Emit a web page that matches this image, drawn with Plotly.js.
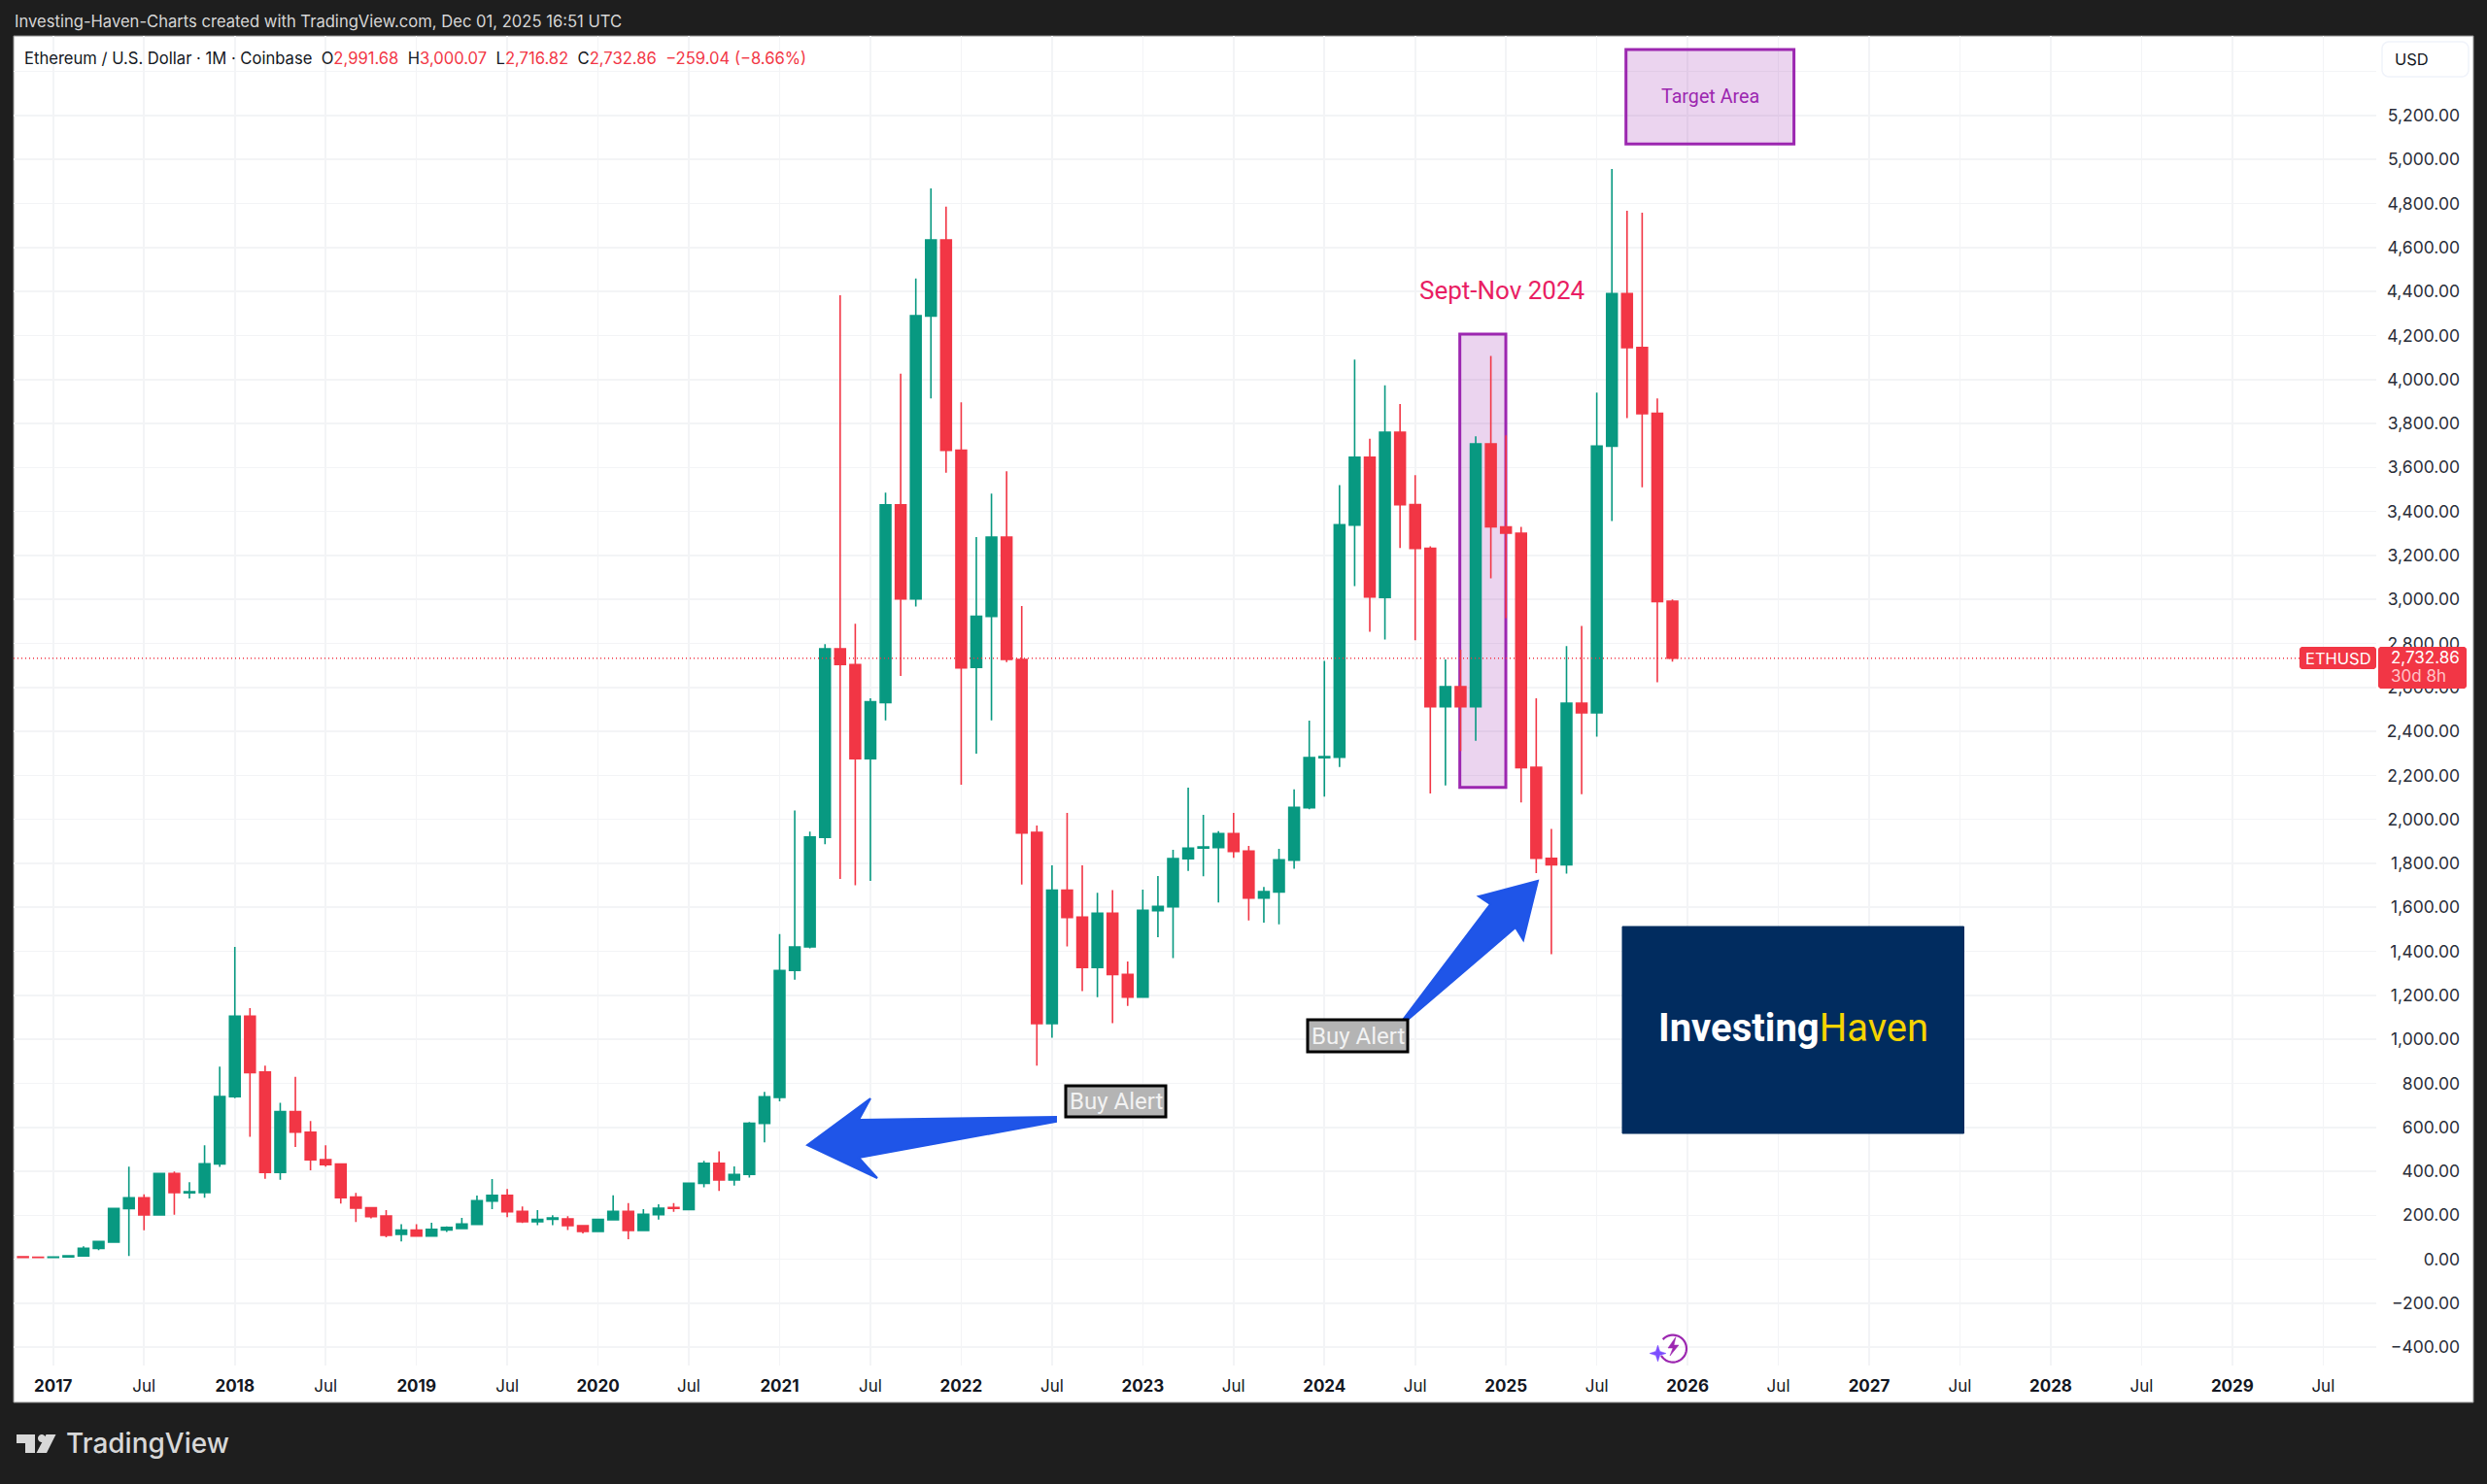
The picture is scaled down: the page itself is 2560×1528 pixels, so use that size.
<!DOCTYPE html>
<html><head><meta charset="utf-8">
<script src="https://cdn.plot.ly/plotly-3.0.1.min.js"></script>
<style>html,body{margin:0;padding:0;background:#1e1e1e}#c{width:2560px;height:1528px}</style>
</head><body><div id="c"></div>
<script>
const months=['2016-11','2016-12',
'2017-01','2017-02','2017-03','2017-04','2017-05','2017-06','2017-07','2017-08','2017-09','2017-10','2017-11','2017-12',
'2018-01','2018-02','2018-03','2018-04','2018-05','2018-06','2018-07','2018-08','2018-09','2018-10','2018-11','2018-12',
'2019-01','2019-02','2019-03','2019-04','2019-05','2019-06','2019-07','2019-08','2019-09','2019-10','2019-11','2019-12',
'2020-01','2020-02','2020-03','2020-04','2020-05','2020-06','2020-07','2020-08','2020-09','2020-10','2020-11','2020-12',
'2021-01','2021-02','2021-03','2021-04','2021-05','2021-06','2021-07','2021-08','2021-09','2021-10','2021-11','2021-12',
'2022-01','2022-02','2022-03','2022-04','2022-05','2022-06','2022-07','2022-08','2022-09','2022-10','2022-11','2022-12',
'2023-01','2023-02','2023-03','2023-04','2023-05','2023-06','2023-07','2023-08','2023-09','2023-10','2023-11','2023-12',
'2024-01','2024-02','2024-03','2024-04','2024-05','2024-06','2024-07','2024-08','2024-09','2024-10','2024-11','2024-12',
'2025-01','2025-02','2025-03','2025-04','2025-05','2025-06','2025-07','2025-08','2025-09','2025-10','2025-11','2025-12'];
const futureMonths=['2026-01','2026-02','2026-03','2026-04','2026-05','2026-06','2026-07','2026-08','2026-09','2026-10','2026-11','2026-12',
'2027-01','2027-02','2027-03','2027-04','2027-05','2027-06','2027-07','2027-08','2027-09','2027-10','2027-11','2027-12',
'2028-01','2028-02','2028-03','2028-04','2028-05','2028-06','2028-07','2028-08','2028-09','2028-10','2028-11','2028-12',
'2029-01','2029-02','2029-03','2029-04','2029-05','2029-06','2029-07','2029-08','2029-09','2029-10','2029-11','2029-12'];
const open=[11,9,8,10.7,15,49,78,230,280,202,390,302,303,434,
739,1105,851,395,671,578,453,433,283,234,197,113,
133,106,133,140,159,265,291,218,171,182,184,153,
127,180,218,131,203,235,226,345,436,361,386,618,
736,1313,1420,1918,2776,2704,2276,2531,3430,3002,4288,4635,
3678,2691,2923,3283,2727,1941,1071,1678,1556,1327,1573,1295,
1192,1585,1603,1821,1870,1872,1935,1856,1642,1670,1815,2053,
2280,2282,3338,3646,3009,3760,3431,3232,2512,2603,2512,3707,
3330,3301,2237,1823,1793,2528,2485,3697,4390,4145,3846,2991.68];
const high=[12,9.5,11.5,16.5,59,83,235,421,295,394,399,350,518,876,
1420,1142,880,711,830,629,518,436,302,235,224,160,
160,166,150,188,290,365,319,240,224,200,196,153,
185,291,255,228,250,255,349,448,491,422,624,761,
1479,2040,1945,2797,4383,2889,2551,3486,4027,4459,4869,4786,
3896,3283,3481,3583,2970,1972,1791,2030,1791,1666,1678,1354,
1681,1743,1862,2144,2021,1947,2030,1879,1693,1866,2137,2449,
2721,3520,4091,3731,3973,3888,3565,3242,2727,2771,3742,4107,
3746,3330,2550,1957,2788,2879,3940,4957,4767,4758,3914,3000.07];
const low=[8,6,8,10.5,15,41,74,15,132,202,203,277,280,420,
732,557,366,362,511,405,421,253,169,186,100,81,
104,103,124,137,158,228,191,165,155,155,133,118,
127,180,91,130,180,216,224,327,311,335,371,532,
718,1271,1413,1887,1729,1700,1720,2450,2652,2968,3914,3576,
2157,2299,2450,2715,1704,880,1007,1422,1219,1192,1073,1152,
1192,1464,1369,1766,1741,1622,1825,1541,1531,1523,1776,2046,
2104,2238,3060,2853,2818,3234,2814,2118,2154,2311,2357,3096,
2915,2077,1756,1387,1754,2114,2376,3356,3824,3510,2623,2716.82];
const close=[9,8,10.7,16,50,81,231,280,202,390,303,307,434,740,
1105,849,395,671,578,452,430,280,233,194,109,133,
106,136,145,160,266,291,216,171,181,188,153,127,
181,218,131,205,232,231,346,436,361,386,618,739,
1313,1420,1920,2776,2704,2276,2535,3430,3002,4290,4635,3678,
2689,2923,3283,2727,1938,1071,1678,1554,1327,1573,1294,1192,
1587,1604,1822,1869,1875,1935,1854,1642,1672,1816,2055,2281,
2285,3340,3646,3011,3760,3431,3232,2512,2603,2512,3707,3330,
3301,2235,1823,1793,2528,2485,3697,4390,4145,3844,2990,2732.86];
const xTickMonths=['2017-01','2017-07','2018-01','2018-07','2019-01','2019-07','2020-01','2020-07','2021-01','2021-07','2022-01','2022-07','2023-01','2023-07','2024-01','2024-07','2025-01','2025-07','2026-01','2026-07','2027-01','2027-07','2028-01','2028-07','2029-01','2029-07'];
const xTickText=['<b>2017</b>','Jul','<b>2018</b>','Jul','<b>2019</b>','Jul','<b>2020</b>','Jul','<b>2021</b>','Jul','<b>2022</b>','Jul','<b>2023</b>','Jul','<b>2024</b>','Jul','<b>2025</b>','Jul','<b>2026</b>','Jul','<b>2027</b>','Jul','<b>2028</b>','Jul','<b>2029</b>','Jul'];
const yTickVals=[-400,-200,0,200,400,600,800,1000,1200,1400,1600,1800,2000,2200,2400,2600,2800,3000,3200,3400,3600,3800,4000,4200,4400,4600,4800,5000,5200,5400];
const yTickText=['−400.00','−200.00','0.00','200.00','400.00','600.00','800.00','1,000.00','1,200.00','1,400.00','1,600.00','1,800.00','2,000.00','2,200.00','2,400.00','2,600.00','2,800.00','3,000.00','3,200.00','3,400.00','3,600.00','3,800.00','4,000.00','4,200.00','4,400.00','4,600.00','4,800.00','5,000.00','5,200.00',' '];
const lastClose=close[close.length-1];

const W=2560,H=1528,ML=14,MR=26,MT=37,MB=122;
const px=v=>(v-ML)/(W-ML-MR), py=v=>(H-MB-v)/(H-MT-MB);
const RED='#F23645',GREEN='#089981',PURPLE='#9C27B0',BLUE='#1F55E8',FONT='Inter, sans-serif';
const poly=(pts,close=true)=>pts.map((p,i)=>(i?'L':'M')+px(p[0])+','+py(p[1])).join(' ')+(close?' Z':'');
const pshape=(pts,fill,extra={})=>Object.assign({type:'path',xref:'paper',yref:'paper',path:poly(pts),fillcolor:fill,line:{color:fill,width:2},layer:'above'},extra);
const rect=(x0,y0,x1,y1,fill,line,lw,layer='above')=>({type:'rect',xref:'paper',yref:'paper',x0:px(x0),x1:px(x1),y0:py(y0),y1:py(y1),fillcolor:fill,line:{color:line,width:lw},layer});
const label=(x,y,text,size,color,anchor='left',family=FONT,weight)=>({xref:'paper',yref:'paper',x:px(x),y:py(y),text,showarrow:false,xanchor:anchor,yanchor:'middle',borderpad:0,font:Object.assign({family,size,color},weight?{weight}:{})});
function rr(x0,y0,x1,y1,r){ // rounded rectangle path in pixel coordinates
  const n=[];const c=(cx,cy,a0)=>{for(let k=0;k<=6;k++){const a=a0+k*Math.PI/12;n.push([cx+r*Math.cos(a),cy+r*Math.sin(a)]);}};
  c(x1-r,y0+r,-Math.PI/2);c(x1-r,y1-r,0);c(x0+r,y1-r,Math.PI/2);c(x0+r,y0+r,Math.PI);return n;}
function arc(cx,cy,r,a0,a1){const n=[];for(let k=0;k<=40;k++){const a=a0+(a1-a0)*k/40;n.push([cx+r*Math.cos(a),cy+r*Math.sin(a)]);}return n;}

const shapes=[
 rect(14,37,2546,1444,'#ffffff','#8e8e8e',1,'below'),
 {type:'rect',xref:'x',yref:'y',x0:94.95,x1:97.99,y0:2145,y1:4206,fillcolor:'rgba(156,39,176,0.2)',line:{color:PURPLE,width:3},layer:'between'},
 {type:'rect',xref:'x',yref:'y',x0:105.93,x1:117.03,y0:5071,y1:5500,fillcolor:'rgba(156,39,176,0.2)',line:{color:PURPLE,width:3},layer:'between'},
 {type:'line',xref:'paper',yref:'y',x0:px(14),x1:px(2446),y0:lastClose,y1:lastClose,line:{color:RED,width:1.6,dash:'1px,3px'},layer:'above'},
 pshape(rr(2452,43,2541,79,7),'#ffffff',{line:{color:'#f0f3fa',width:1.5},layer:'above'}),
 pshape(rr(2367,666,2446,689,3),RED,{line:{color:RED,width:0}}),
 pshape(rr(2448,666,2539,709,3),RED,{line:{color:RED,width:0}}),
 // blue arrows
 pshape([[831,1179],[896,1131],[884,1153],[1087,1150],[1087,1155],[884,1192],[903,1213]],BLUE),
 pshape([[1441,1054],[1534,931],[1522,923],[1583,907],[1568,968],[1560,955],[1448,1051]],BLUE),
 // buy alert boxes
 rect(1097,1118,1200,1150,'#b4b4b4','#000000',3),
 rect(1346,1050,1449,1083,'#b4b4b4','#000000',3),
 // logo panel
 rect(1670,954,2021.5,1167,'#012C5F','#012C5F',1),
 // bolt badge
 pshape(arc(1722,1388.6,14,-2.4,2.6),'rgba(0,0,0,0)',{path:poly(arc(1722,1388.6,14,-2.4,2.6),false),line:{color:PURPLE,width:2.2}}),
 pshape([[1725,1376.5],[1717,1388],[1722,1388],[1719,1396],[1728,1385],[1723,1385]],PURPLE,{line:{color:PURPLE,width:.5}}),
 pshape([[1706.5,1385],[1708.6,1391.4],[1715,1393.5],[1708.6,1395.6],[1706.5,1402],[1704.4,1395.6],[1698,1393.5],[1704.4,1391.4]],'#7C4DFF',{line:{color:'#7C4DFF',width:.5}}),
 // TradingView mark
 pshape([[17,1477],[36,1477],[36,1496],[26,1496],[26,1486],[17,1486]],'#d8d8d8',{line:{color:'#d8d8d8',width:0}}),
 pshape(arc(43,1481,4,0,6.283),'#d8d8d8',{line:{color:'#d8d8d8',width:0}}),
 pshape([[47.5,1477],[57.5,1477],[48,1496],[37.5,1496]],'#d8d8d8',{line:{color:'#d8d8d8',width:0}})
];

const annotations=[
 label(14,22,'Investing-Haven-Charts created with TradingView.com, Dec 01, 2025 16:51 UTC',16.6,'#d6d6d6'),
 label(24,60,'Ethereum / U.S. Dollar · 1M · Coinbase&nbsp;&nbsp;O<span style="color:'+RED+'">2,991.68</span>&nbsp;&nbsp;H<span style="color:'+RED+'">3,000.07</span>&nbsp;&nbsp;L<span style="color:'+RED+'">2,716.82</span>&nbsp;&nbsp;C<span style="color:'+RED+'">2,732.86</span>&nbsp;&nbsp;<span style="color:'+RED+'">−259.04 (−8.66%)</span>',16.6,'#131722'),
 label(2464,61,'USD',16.5,'#131722'),
 label(2406.5,677.5,'ETHUSD',16.5,'#ffffff','center'),
 label(2460,677,'2,732.86',17,'#ffffff'),
 label(2460,696,'30d 8h',17,'#ffc4c8'),
 label(1547,299,'Sept-Nov 2024',26,'#E91E63','center','Roboto, sans-serif'),
 label(1760.5,100,'Target Area',19.7,PURPLE,'center','Roboto, sans-serif'),
 label(1148.5,1134,'Buy Alert',24,'#f2f2f2','center','Roboto, sans-serif'),
 label(1397.5,1067,'Buy Alert',24,'#f2f2f2','center','Roboto, sans-serif'),
 label(1846,1058,'<b style="color:#ffffff">Investing</b><span style="color:#F5D400">Haven</span>',40,'#ffffff','center','Roboto, sans-serif'),
 label(67,1486,'TradingView',28,'#d8d8d8','left',FONT,500)
];

const trace={type:'candlestick',x:months,open,high,low,close,whiskerwidth:0,
 increasing:{line:{color:GREEN,width:1.6},fillcolor:GREEN},
 decreasing:{line:{color:RED,width:1.6},fillcolor:RED},hoverinfo:'skip',showlegend:false};

const layout={width:W,height:H,paper_bgcolor:'#1e1e1e',plot_bgcolor:'#ffffff',showlegend:false,hovermode:false,
 boxgap:0.3,boxgroupgap:0,
 margin:{l:ML,r:MR,t:MT,b:MB,pad:0},
 xaxis:{type:'category',domain:[0,(2446-ML)/(W-ML-MR)],anchor:'y',categoryorder:'array',categoryarray:months.concat(futureMonths),
  range:[-0.62,155.51],tickmode:'array',tickvals:xTickMonths,ticktext:xTickText,ticklen:0,ticklabelstandoff:9,
  showgrid:true,gridcolor:'#f3f4f6',gridwidth:1.6,zeroline:false,showline:false,rangeslider:{visible:false},
  tickfont:{family:FONT,size:17,color:'#131722'},tickangle:0},
 yaxis:{type:'linear',anchor:'free',position:1,side:'left',range:[-483,5562],tickmode:'array',tickvals:yTickVals,ticktext:yTickText,
  ticklen:0,ticklabelstandoff:2,showgrid:true,gridcolor:'#f3f4f6',gridwidth:1.6,zeroline:false,showline:false,
  tickfont:{family:FONT,size:17.5,color:'#2a2e39'}},
 shapes,annotations};
Plotly.newPlot('c',[trace],layout,{staticPlot:true,displayModeBar:false});
</script></body></html>
